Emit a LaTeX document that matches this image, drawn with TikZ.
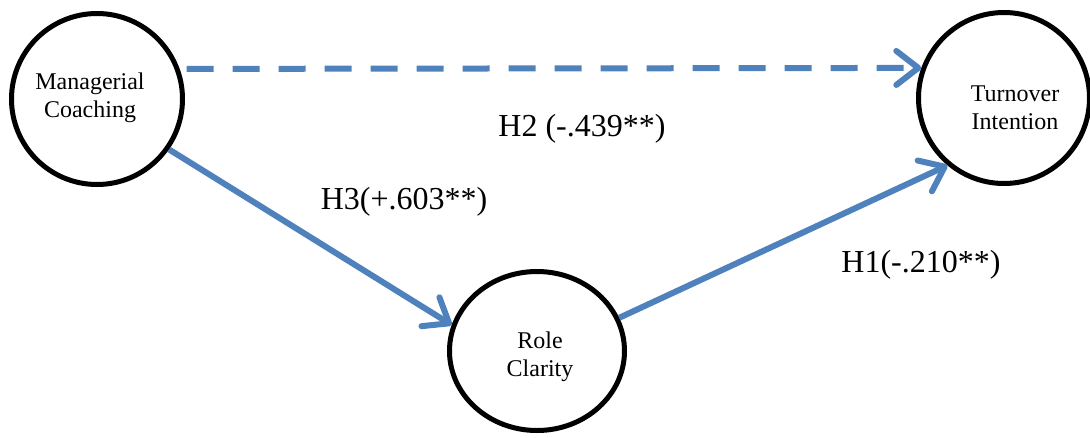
\documentclass[tikz,border=0pt]{standalone}
\usepackage{fontspec}
\setmainfont{Liberation Serif}
\usetikzlibrary{arrows.meta,shapes.geometric}
\definecolor{pathblue}{RGB}{79,129,189}
\begin{document}
\begin{tikzpicture}[x=1pt,y=-1pt,
  var/.style={draw=black, line width=5pt, circle, minimum size=171pt, inner sep=0pt},
  varell/.style={draw=black, line width=5pt, ellipse, minimum width=175pt, minimum height=159pt, inner sep=0pt},
  vartext/.style={align=center, font=\fontsize{24}{28}\selectfont, inner sep=0pt},
  lab/.style={font=\fontsize{32}{36}\selectfont, inner sep=0pt},
  pathline/.style={draw=pathblue, line width=6pt, -{Straight Barb[length=22pt,width=34pt,round]}},
]
\useasboundingbox (0,0) rectangle (1090,437);
\node[var] (mc) at (97,99) {};
\node[var] (tu) at (1004,98) {};
\node[varell] (rc) at (537,351) {};
\node[vartext] (mct) at (90,98) {Managerial\\Coaching};
\node[vartext] (tut) at (1015,108) {Turnover\\Intention};
\node[vartext] (rct) at (540,357) {Role\\Clarity};
\draw[pathline, dash pattern=on 27pt off 19pt] ([xshift=7pt]mc.20) -- (tu.160);
\draw[pathline] (mc.-35) -- (rc.163);
\draw[pathline] (rc.22) -- (tu.230);
\node[lab] (h2) at (582,129) {H2 (-.439**)};
\node[lab] (h3) at (404,202) {H3(+.603**)};
\node[lab] (h1) at (921,265) {H1(-.210**)};
\end{tikzpicture}
\end{document}
